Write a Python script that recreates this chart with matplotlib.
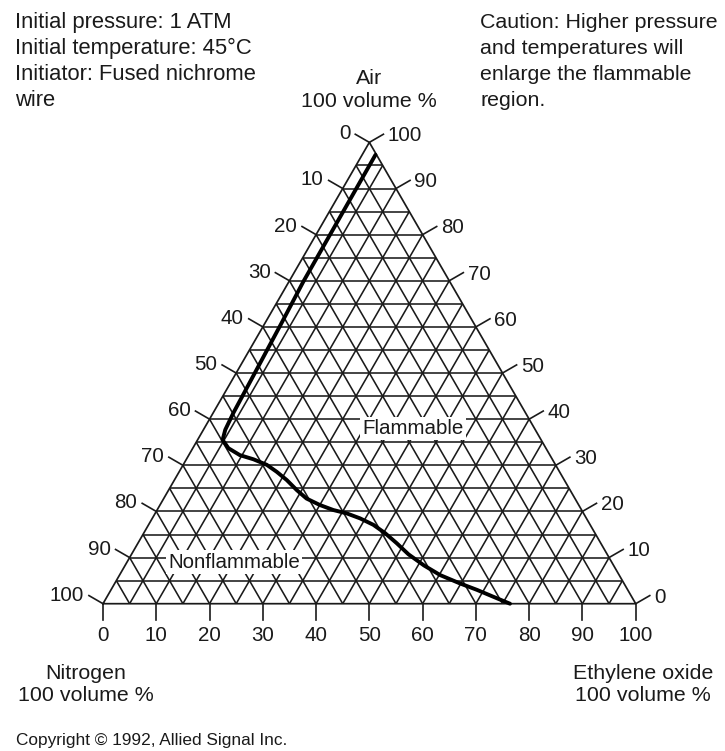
import numpy as np
import matplotlib.pyplot as plt

# flammability boundary: ethylene oxide % and air %, nitrogen is the rest
eo_pct = [2.5, 2.7, 3.1, 3.5, 3.8, 4.1, 4.7, 6.7, 9.6, 12.6, 15.7, 18.3, 21.1, 24.1, 26.8,
          30.0, 33.1, 35.9, 39.0, 42.2, 45.3, 48.6, 52.0, 56.1, 60.2, 64.8, 68.7, 73.3, 76.4]
air_pct = [97.3, 69.8, 60.8, 49.9, 41.3, 37.7, 35.5, 33.7, 32.2, 31.3, 30.1, 28.6, 26.8, 24.6, 22.8,
           21.4, 20.3, 19.6, 18.5, 17.1, 15.3, 13.1, 10.7, 8.3, 6.2, 4.4, 3.0, 1.2, 0.0]

nitrogen_ticks = [0, 10, 20, 30, 40, 50, 60, 70, 80, 90, 100]   # left side, top to bottom
air_ticks = [100, 90, 80, 70, 60, 50, 40, 30, 20, 10, 0]        # right side, top to bottom
eo_ticks = [0, 10, 20, 30, 40, 50, 60, 70, 80, 90, 100]         # bottom, left to right
grid_step = 5

notes_left = ["Initial pressure: 1 ATM", "Initial temperature: 45°C",
              "Initiator: Fused nichrome", "wire"]
notes_right = ["Caution: Higher pressure", "and temperatures will",
               "enlarge the flammable", "region."]

plt.rcParams["font.family"] = ["Liberation Sans", "DejaVu Sans"]
INK = "#1a1a1a"
FS = 14.8       # tick labels
FS_TXT = 15.4   # notes and corner names

W, HP = 725, 751
S = 5.327            # pixels per percent along a side
X0, Y0 = 103, 603.7  # pixel position of the nitrogen corner
R3 = np.sqrt(3) / 2


def tern(eo, air):
    eo = np.asarray(eo, dtype=float)
    air = np.asarray(air, dtype=float)
    return eo + air / 2, air * R3


def px(x, y):
    return x / W, 1 - y / HP


fig = plt.figure(figsize=(7.25, 7.51), dpi=100)
ax = fig.add_axes([0, 0, 1, 1])
ax.set_xlim(-X0 / S, (W - X0) / S)
ax.set_ylim(-(HP - Y0) / S, Y0 / S)
ax.axis("off")

# grid, every 5 %
for v in range(grid_step, 100, grid_step):
    for p0, p1 in [((0, v), (100 - v, v)),          # constant air
                   ((v, 0), (v, 100 - v)),          # constant ethylene oxide
                   ((100 - v, 0), (0, 100 - v))]:   # constant nitrogen
        x, y = tern([p0[0], p1[0]], [p0[1], p1[1]])
        ax.plot(x, y, color=INK, lw=1.15, solid_capstyle="butt")

x, y = tern([0, 100, 0, 0], [0, 0, 100, 0])
ax.plot(x, y, color=INK, lw=1.25, solid_joinstyle="miter")

# ticks and their labels
TL = 3.05
for n in nitrogen_ticks:
    ex, ey = tern(0, 100 - n)
    tx, ty = ex - TL * R3, ey + TL * 0.5
    ax.plot([ex, tx], [ey, ty], color=INK, lw=1.2)
    ax.text(tx - 0.9, ty + 0.45, str(n), ha="right", va="center_baseline",
            fontsize=FS, color=INK)

for a in air_ticks:
    ex, ey = tern(100 - a, a)
    tx, ty = ex + TL * R3, ey + TL * 0.5
    ax.plot([ex, tx], [ey, ty], color=INK, lw=1.2)
    ax.text(tx + 0.8, ty + 0.1, str(a), ha="left", va="center_baseline",
            fontsize=FS, color=INK)

for e in eo_ticks:
    ex, ey = tern(e, 0)
    ax.plot([ex, ex], [ey, ey - TL], color=INK, lw=1.2)
    ax.text(ex, ey - 5.6, str(e), ha="center", va="center_baseline",
            fontsize=FS, color=INK)

# flammability boundary
x, y = tern(eo_pct, air_pct)
ax.plot(x, y, color="black", lw=2.8, solid_capstyle="round", solid_joinstyle="round")

box = dict(facecolor="white", edgecolor="none", pad=1.5)
fig.text(*px(413, 426.5), "Flammable", ha="center", va="center_baseline",
         fontsize=FS, color=INK, bbox=box)
fig.text(*px(234, 560), "Nonflammable", ha="center", va="center_baseline",
         fontsize=FS, color=INK, bbox=box)

# notes and corner names
for i, line in enumerate(notes_left):
    fig.text(*px(15, 28 + 26 * i), line, ha="left", va="baseline", fontsize=15.8, color=INK)
for i, line in enumerate(notes_right):
    fig.text(*px(480, 28 + 26 * i), line, ha="left", va="baseline", fontsize=FS_TXT, color=INK)

fig.text(*px(369, 84), "Air", ha="center", va="baseline", fontsize=FS_TXT, color=INK)
fig.text(*px(369, 107), "100 volume %", ha="center", va="baseline", fontsize=FS_TXT, color=INK)
fig.text(*px(86, 679), "Nitrogen", ha="center", va="baseline", fontsize=FS_TXT, color=INK)
fig.text(*px(86, 701), "100 volume %", ha="center", va="baseline", fontsize=FS_TXT, color=INK)
fig.text(*px(643, 679), "Ethylene oxide", ha="center", va="baseline", fontsize=FS_TXT, color=INK)
fig.text(*px(643, 701), "100 volume %", ha="center", va="baseline", fontsize=FS_TXT, color=INK)
fig.text(*px(16, 745), "Copyright © 1992, Allied Signal Inc.", ha="left", va="baseline",
         fontsize=12.4, color=INK)

fig.savefig("out.png", dpi=100, facecolor="white")
